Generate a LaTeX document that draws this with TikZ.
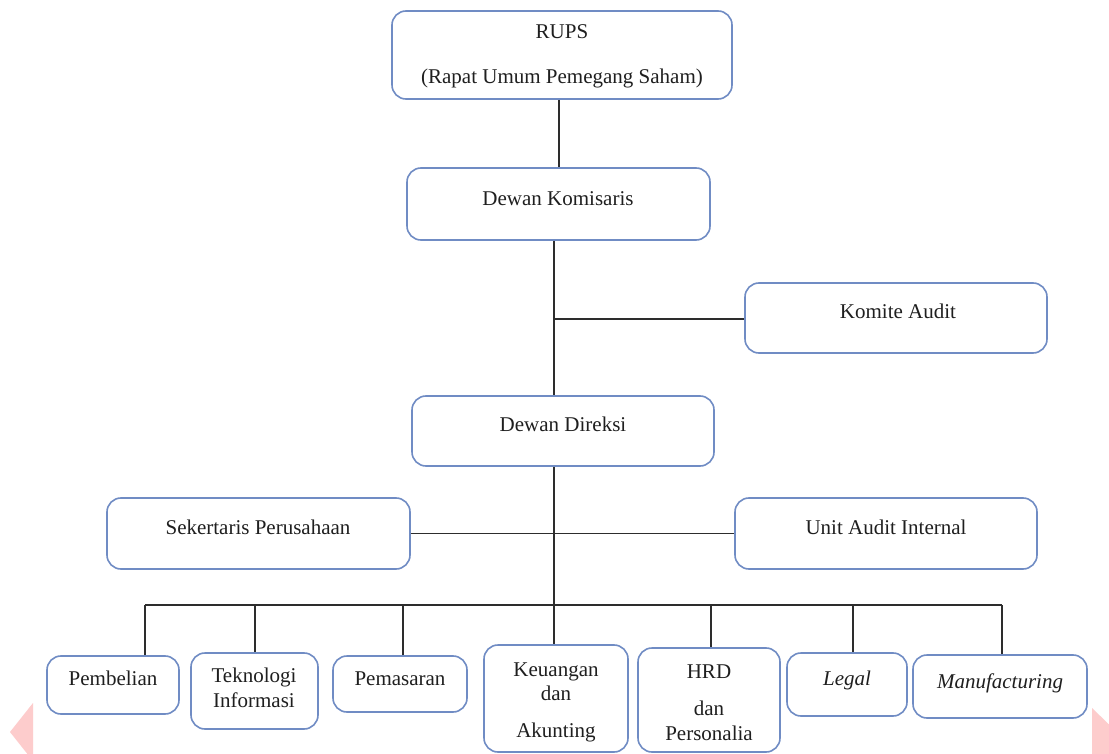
\documentclass[tikz,border=0pt]{standalone}
\usepackage{fontspec}
\setmainfont{Liberation Serif}
\definecolor{boxblue}{RGB}{112,140,196}
\definecolor{linegray}{RGB}{45,45,45}
\definecolor{wmpink}{RGB}{253,204,204}
\begin{document}
\begin{tikzpicture}[x=1pt,y=-1pt,
  box/.style={draw=boxblue,line width=1.6pt,rounded corners=14pt,fill=white,inner sep=0pt},
  txt/.style={anchor=base,inner sep=0pt,text=black!88,font=\fontsize{21}{25}\selectfont},
  itxt/.style={txt,font=\fontsize{21}{25}\selectfont\itshape},
  conn/.style={draw=linegray,line width=1.4pt}]
\useasboundingbox[fill=white] (0,0) rectangle (1109,754);
% watermark triangles
\begin{scope}
\clip (0,0) rectangle (1109,754);
\fill[wmpink] (10,732) -- (33,703) -- (33,761) -- cycle;
\fill[wmpink] (1092,708) -- (1125,740) -- (1092,772) -- cycle;
\end{scope}
% coordinates of the connector trunk and bus
\coordinate (j1) at (554,319);
\coordinate (bus) at (554,605);
\coordinate (d1) at (145,605);
\coordinate (d2) at (255,605);
\coordinate (d3) at (403,605);
\coordinate (d5) at (711,605);
\coordinate (d6) at (853,605);
\coordinate (d7) at (1002,605);
% boxes
\node[box,minimum width=340pt,minimum height=88pt] (rups) at (562,55) {};
\node[box,minimum width=303pt,minimum height=72pt] (kom) at (558.5,204) {};
\node[box,minimum width=302pt,minimum height=70pt] (kaud) at (896,318) {};
\node[box,minimum width=302pt,minimum height=70pt] (dir) at (563,431) {};
\node[box,minimum width=303pt,minimum height=71pt] (sek) at (258.5,533.5) {};
\node[box,minimum width=302pt,minimum height=71pt] (uai) at (886,533.5) {};
\node[box,minimum width=132pt,minimum height=58pt] (pem) at (113,685) {};
\node[box,minimum width=127pt,minimum height=76pt] (tek) at (254.5,691) {};
\node[box,minimum width=134pt,minimum height=56pt] (pms) at (400,684) {};
\node[box,minimum width=144pt,minimum height=107pt] (keu) at (556,698.5) {};
\node[box,minimum width=142pt,minimum height=104pt] (hrd) at (709,700) {};
\node[box,minimum width=120pt,minimum height=63pt] (leg) at (847,684.5) {};
\node[box,minimum width=174pt,minimum height=63pt] (man) at (1000,686.5) {};
% texts
\node[txt] (t1) at (562,39) {RUPS};
\node[txt] (t2) at (562,84) {(Rapat Umum Pemegang Saham)};
\node[txt] (t3) at (558,206) {Dewan Komisaris};
\node[txt] (t4) at (898,318) {Komite Audit};
\node[txt] (t5) at (563,431) {Dewan Direksi};
\node[txt] (t6) at (258,534) {Sekertaris Perusahaan};
\node[txt] (t7) at (886,534) {Unit Audit Internal};
\node[txt] (t8) at (113,685) {Pembelian};
\node[txt] (t9) at (254,682) {Teknologi};
\node[txt] (t10) at (254,707) {Informasi};
\node[txt] (t11) at (400,685) {Pemasaran};
\node[txt] (t12) at (556,676) {Keuangan};
\node[txt] (t13) at (556,700) {dan};
\node[txt] (t14) at (556,737) {Akunting};
\node[txt] (t15) at (709,678) {HRD};
\node[txt] (t16) at (709,715) {dan};
\node[txt] (t17) at (709,740) {Personalia};
\node[itxt] (t18) at (847,685) {Legal};
\node[itxt] (t19) at (1000,688) {Manufacturing};
% connectors
\draw[conn] (rups.south) ++(-3,0) coordinate (r0) (r0) -- (r0 |- kom.north);
\draw[conn] (kom.south -| j1) -- (dir.north -| j1);
\draw[conn] (j1) -- (j1 -| kaud.west);
\draw[conn] (dir.south -| bus) -- (bus);
\draw[conn] (sek.east) -- (uai.west);
\draw[conn] (d1) -- (d7);
\draw[conn] (d1) -- (d1 |- pem.north);
\draw[conn] (d2) -- (d2 |- tek.north);
\draw[conn] (d3) -- (d3 |- pms.north);
\draw[conn] (bus) -- (bus |- keu.north);
\draw[conn] (d5) -- (d5 |- hrd.north);
\draw[conn] (d6) -- (d6 |- leg.north);
\draw[conn] (d7) -- (d7 |- man.north);
\end{tikzpicture}
\end{document}
